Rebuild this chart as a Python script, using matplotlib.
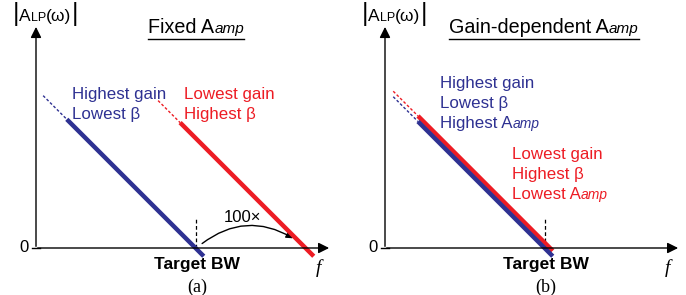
import matplotlib.pyplot as plt
from matplotlib.patches import FancyArrowPatch

plt.rcParams['font.family'] = ['Liberation Sans', 'DejaVu Sans']

# all positions in decades: x = log10(f), y = log10|A|
target_bw = 2.9
bw_ratio = 2.0          # 100x -> two decades
# panel (a): fixed Aamp
a_blue_dash = [0.13, 0.56]
a_blue_solid = [0.56, 3.05]
a_red_dash = [2.22, 2.62]
a_red_solid = [2.62, 5.05]
# panel (b): gain-dependent Aamp
b_offset = 0.1
b_blue_dash = [0.15, 0.6]
b_blue_solid = [0.6, 3.05]
b_red_dash = [0.15, 0.6]
b_red_solid = [0.6, 3.05]

BLUE = '#2e3192'
RED = '#ed1c24'
ppu = 55.0  # pixels per decade
FS = 12.2


def chain(ax, x, y, pieces, color='black'):
    # pieces: (string, size, style) written one after another on a baseline
    prev = None
    for s, size, style in pieces:
        if prev is None:
            prev = ax.text(x, y, s, fontsize=size, style=style, color=color,
                           ha='left', va='baseline')
        else:
            prev = ax.annotate(s, xy=(1, y), xycoords=(prev, 'data'), fontsize=size,
                               style=style, color=color, ha='left', va='baseline')
    return prev


def setup(ax, y0px):
    ax.set_xlim(-y0px / ppu, (343 - y0px) / ppu)
    ax.set_ylim(-(295 - 248) / ppu, 248 / ppu)
    ax.axis('off')
    # axes with arrows
    ax.annotate('', xy=(0, 4.07), xytext=(0, -0.02),
                arrowprops=dict(arrowstyle='-|>', color='black', lw=1.0, mutation_scale=16))
    ax.annotate('', xy=(5.38, 0), xytext=(-0.02, 0),
                arrowprops=dict(arrowstyle='-|>', color='black', lw=1.0, mutation_scale=16))
    ax.plot([-0.07, 0.07], [0, 0], color='black', lw=1.0)
    ax.text(-0.14, 0, '0', fontsize=12, ha='right', va='center')
    ax.text(5.13, -0.2, 'f', fontsize=14, style='italic', family='Liberation Serif',
            ha='center', va='top')
    # target BW marker
    ax.plot([target_bw, target_bw], [0, 0.55], color='black', lw=0.9, ls=(0, (3, 2)))
    ax.text(target_bw + 0.03, -0.17, 'Target BW', fontsize=12.5, weight='bold',
            ha='center', va='top')
    # y label |ALP(w)|
    chain(ax, -0.42, 4.12, [('|', 18, 'normal'), ('A', 12.5, 'normal'),
                            ('LP', 9, 'normal'), ('(ω)', 12.5, 'normal'),
                            ('|', 18, 'normal')])


def draw_line(ax, intercept, dash, solid, color):
    xd = list(dash)
    ax.plot(xd, [intercept - v for v in xd], color=color, lw=1.0, ls=(0, (2, 1.5)))
    xs = list(solid)
    ax.plot(xs, [intercept - v for v in xs], color=color, lw=3.2, solid_capstyle='butt')


fig = plt.figure(figsize=(6.86, 2.95), dpi=100)
axa = fig.add_axes([0, 0, 0.5, 1])
axb = fig.add_axes([0.5, 0, 0.5, 1])

setup(axa, 36)
setup(axb, 42)

# panel (a)
draw_line(axa, target_bw, a_blue_dash, a_blue_solid, BLUE)
draw_line(axa, target_bw + bw_ratio, a_red_dash, a_red_solid, RED)
chain(axa, 0.65, 2.71, [('Highest gain', FS, 'normal')], BLUE)
chain(axa, 0.65, 2.35, [('Lowest β', FS, 'normal')], BLUE)
chain(axa, 2.7, 2.71, [('Lowest gain', FS, 'normal')], RED)
chain(axa, 2.7, 2.35, [('Highest β', FS, 'normal')], RED)
arc = FancyArrowPatch((2.98, 0.05), (4.72, 0.15), connectionstyle='arc3,rad=-0.35',
                      arrowstyle='-|>', mutation_scale=10, color='black', lw=1.0)
axa.add_patch(arc)
axa.text(3.76, 0.47, '100×', fontsize=12, ha='center', va='baseline')
axa.text(target_bw + 0.03, -0.56, '(a)', fontsize=13, family='Liberation Serif',
         ha='center', va='top')

# panel (b)
draw_line(axb, target_bw + b_offset, b_red_dash, b_red_solid, RED)
draw_line(axb, target_bw, b_blue_dash, b_blue_solid, BLUE)
chain(axb, 1.0, 2.91, [('Highest gain', FS, 'normal')], BLUE)
chain(axb, 1.0, 2.55, [('Lowest β', FS, 'normal')], BLUE)
chain(axb, 1.0, 2.19, [('Highest A', FS, 'normal'), ('amp', 10, 'italic')], BLUE)
chain(axb, 2.3, 1.62, [('Lowest gain', FS, 'normal')], RED)
chain(axb, 2.3, 1.25, [('Highest β', FS, 'normal')], RED)
chain(axb, 2.3, 0.89, [('Lowest A', FS, 'normal'), ('amp', 10, 'italic')], RED)
axb.text(target_bw + 0.03, -0.56, '(b)', fontsize=13, family='Liberation Serif',
         ha='center', va='top')

# titles with underline
ta = axa.text(2.04, 3.91, 'Fixed A', fontsize=14.2, ha='left', va='baseline')
ta2 = axa.annotate('amp', xy=(1, 3.91), xycoords=(ta, 'data'), fontsize=11, style='italic',
                   ha='left', va='baseline')
tb = axb.text(1.17, 3.91, 'Gain-dependent A', fontsize=14.2, ha='left', va='baseline')
tb2 = axb.annotate('amp', xy=(1, 3.91), xycoords=(tb, 'data'), fontsize=11, style='italic',
                   ha='left', va='baseline')
fig.canvas.draw()
r = fig.canvas.get_renderer()
for ax, t1, t2 in [(axa, ta, ta2), (axb, tb, tb2)]:
    inv = ax.transData.inverted()
    x0 = inv.transform(t1.get_window_extent(r).p0)[0]
    x1 = inv.transform(t2.get_window_extent(r).p1)[0]
    ax.plot([x0, x1], [3.8, 3.8], color='black', lw=1.0)

fig.savefig('out.png', dpi=100)
